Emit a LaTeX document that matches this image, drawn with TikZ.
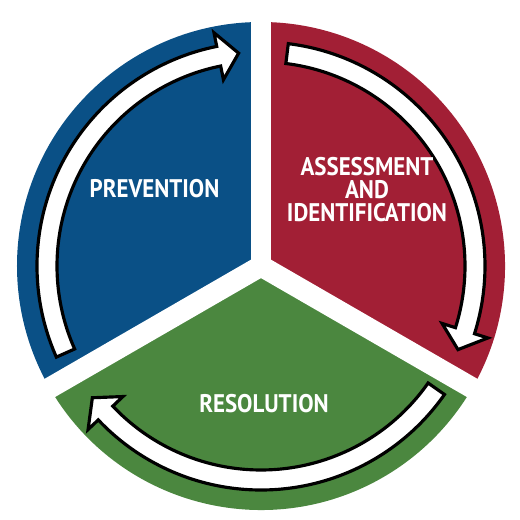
\documentclass[tikz,border=0pt]{standalone}
\usepackage{fontspec}
\setmainfont[FakeStretch=0.9]{PT Sans}
\definecolor{pblue}{HTML}{0A5086}
\definecolor{pred}{HTML}{A21F35}
\definecolor{pgreen}{HTML}{4B873F}
\newcommand\cycarrow[2]{%
  \pgfmathsetmacro\hb{#2+5.4}%
  \draw[arrowshape] (#1:224) arc[start angle=#1, end angle=\hb, radius=224]
    -- (\hb:238) -- (#2:214) -- (\hb:190) -- (\hb:204)
    arc[start angle=\hb, end angle=#1, radius=204] -- cycle;}
\tikzset{
  arrowshape/.style={fill=white, draw=black, line width=1.8pt, line join=miter},
  gapline/.style={draw=white, line width=0.42cm},
  label/.style={text=white, font=\bfseries\fontsize{14.5}{13}\selectfont, align=center}
}
\begin{document}
\begin{tikzpicture}[x=0.02cm,y=0.02cm]
\useasboundingbox[fill=white] (-261,-254) rectangle (259,266);
\fill[pblue] (0,0) -- (90:244) arc[start angle=90, end angle=210, radius=244] -- cycle;
\fill[pred] (0,0) -- (-30:244) arc[start angle=-30, end angle=90, radius=244] -- cycle;
\fill[pgreen] (0,0) -- (210:244) arc[start angle=210, end angle=330, radius=244] -- cycle;
\coordinate (c) at (0,0);
\coordinate (g1) at (90:260);
\coordinate (g2) at (210:260);
\coordinate (g3) at (330:260);
\draw[gapline] (c) -- (g1);
\draw[gapline] (c) -- (g2);
\draw[gapline] (c) -- (g3);
\cycarrow{204}{96}
\cycarrow{83}{-23}
\cycarrow{325}{218}
\node[label] (prev) at (-106.5,77.5) {PREVENTION};
\node[label] (assess) at (106,76.5) {ASSESSMENT\\AND\\IDENTIFICATION};
\node[label] (resol) at (3,-137.5) {RESOLUTION};
\end{tikzpicture}
\end{document}
